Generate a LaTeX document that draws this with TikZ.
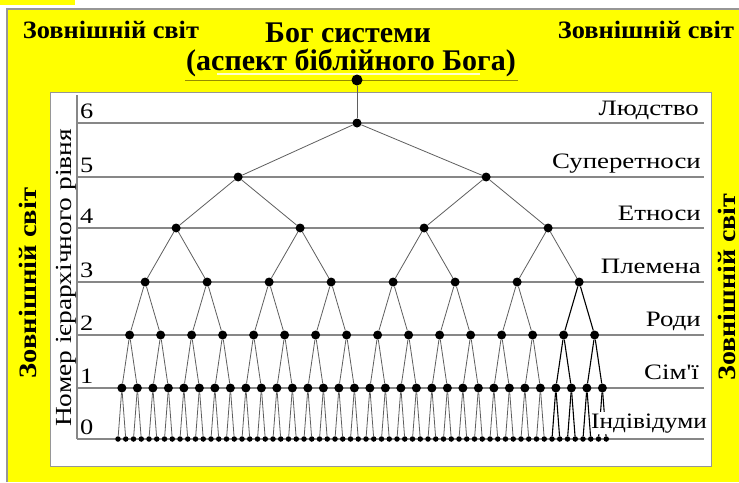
\documentclass[tikz,border=0pt]{standalone}
\usepackage{fontspec}
\setmainfont{Liberation Serif}
\newfontfamily\plainserif{Liberation Serif}
\newcommand\stretchtext[2]{\scalebox{#1}[1]{#2}}
\definecolor{ylw}{RGB}{255,255,0}
\definecolor{frame}{RGB}{150,150,150}
\definecolor{hline}{RGB}{135,135,135}
\definecolor{edgec}{RGB}{95,95,95}
\definecolor{olive}{RGB}{150,140,0}
\begin{document}
\begin{tikzpicture}[x=1pt,y=-1pt,
  levelline/.style={draw=hline,line width=1.2pt},
  edge/.style={draw=edgec,line width=0.8pt},
  hedge/.style={draw=black,line width=1.1pt},
  leaf/.style={circle,fill=black,inner sep=0pt,minimum size=5.5pt},
  dot/.style={circle,fill=black,inner sep=0pt,minimum size=9pt},
  rootdot/.style={circle,fill=black,inner sep=0pt,minimum size=11pt},
  lab/.style={font=\fontsize{22}{24}\selectfont,anchor=base east,inner sep=0pt},
  num/.style={font=\fontsize{22}{24}\selectfont,anchor=base west,inner sep=0pt},
  world/.style={font=\bfseries\fontsize{25}{27}\selectfont,inner sep=0pt},
  titl/.style={font=\bfseries\fontsize{30}{32}\selectfont,inner sep=0pt}
]
\useasboundingbox (0,0) rectangle (739,482);
% background
\fill[white] (0,0) rectangle (739,482);
\fill[ylw] (0,0) rectangle (75,5);
\fill[ylw] (7,9) rectangle (739,482);
\draw[frame,line width=1.5pt] (7,482) -- (7,9) -- (739,9);
\fill[white] (50,92) rectangle (711,466);
\draw[frame,line width=1pt] (50,92) rectangle (711,466);
% title
\node[titl,anchor=base] (t1) at (348,42) {Бог системи};
\node[titl,anchor=base] (t2) at (351,70) {(аспект біблійного Бога)};
\draw[olive,line width=1pt] (185,80) -- (518,80);
\draw[white,line width=2pt,opacity=0.8] (217,74) -- (480,74);
% outer labels
\node[world] (wtl) at (111,30) {\stretchtext{1.055}{Зовнішній світ}};
\node[world] (wtr) at (646,30) {\stretchtext{1.055}{Зовнішній світ}};
\node[world,rotate=90,anchor=base] (wl) at (36,283) {\stretchtext{1.14}{Зовнішній світ}};
\node[world,rotate=90,anchor=base] (wr) at (735,287) {\stretchtext{1.12}{Зовнішній світ}};
% axis
\node[font=\fontsize{23}{25}\selectfont,rotate=90,anchor=base,inner sep=0pt] (axl) at (71,278) {\stretchtext{1.19}{Номер ієрархічного рівня}};
\draw[hline,line width=1.2pt] (77,95) -- (77,439);
% level lines, numbers and names
\foreach \lv/\yy in {6/123,5/177,4/228,3/282,2/335,0/439}
  \draw[levelline] (77,\yy) -- (704,\yy);
\draw[hline,line width=1.8pt] (77,388) -- (704,388);
\foreach \lv/\yy in {6/123,5/177,4/228,3/282,2/335,1/388,0/439}
  \node[num] (num\lv) at (80,\yy-5) {\stretchtext{1.2}{\lv}};
\node[lab] (nm6) at (699,115) {\stretchtext{1.22}{Людство}};
\node[lab] (nm5) at (701,168) {\stretchtext{1.22}{Суперетноси}};
\node[lab] (nm4) at (701,220) {\stretchtext{1.22}{Етноси}};
\node[lab] (nm3) at (701,273) {\stretchtext{1.22}{Племена}};
\node[lab] (nm2) at (701,326) {\stretchtext{1.22}{Роди}};
\node[lab] (nm1) at (699,379) {\stretchtext{1.22}{\plainserif Сім'ї}};
% nodes
\foreach \j in {0,...,63}
  \node[leaf] (n0-\j) at ({118+7.75*\j},439) {};
\foreach \k/\n/\yy in {1/31/388,2/15/335,3/7/282,4/3/228,5/1/177}
  \foreach \i in {0,...,\n}{
    \pgfmathsetmacro\xx{118+7.75*(2^\k*\i+(2^\k-1)/2)}
    \node[dot] (n\k-\i) at (\xx,\yy) {};
  }
\node[dot] (n6-0) at (357,123) {};
\node[rootdot] (root) at (357,80) {};
% edges
\foreach \k/\n in {1/31,2/15,3/7,4/3,5/1}
  \foreach \i in {0,...,\n}{
    \pgfmathtruncatemacro\km{\k-1}
    \pgfmathtruncatemacro\ca{2*\i}
    \pgfmathtruncatemacro\cb{2*\i+1}
    \pgfmathtruncatemacro\hl{and(\k<4,\i*2^\k>55)}
    \ifnum\hl=1 \def\est{hedge}\else\def\est{edge}\fi
    \draw[\est] (n\k-\i) -- (n\km-\ca);
    \draw[\est] (n\k-\i) -- (n\km-\cb);
  }
\draw[edge] (n6-0) -- (n5-0);
\draw[edge] (n6-0) -- (n5-1);
\draw[edge] (root) -- (n6-0);
\node[lab,fill=white,inner ysep=1pt] (nm0) at (707,428) {\stretchtext{1.15}{Індівідуми}};
\end{tikzpicture}
\end{document}
